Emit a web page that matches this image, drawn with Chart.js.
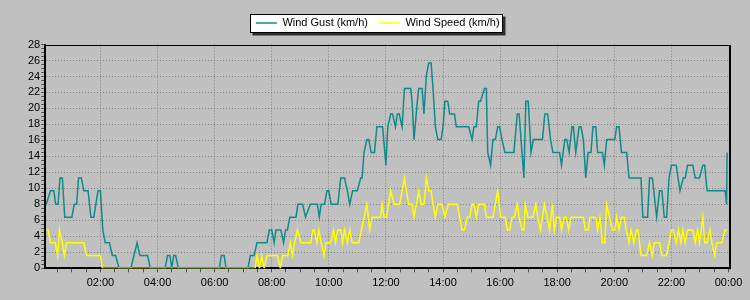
<!DOCTYPE html>
<html>
<head>
<meta charset="utf-8">
<script src="https://cdn.jsdelivr.net/npm/chart.js@4/dist/chart.umd.min.js"></script>
<style>
  html, body { margin: 0; padding: 0; background: #c0c0c0; }
  canvas { display: block; }
</style>
</head>
<body>
<canvas id="windChart" width="750" height="300"></canvas>
<script>
// Wind over one day (km/h). Times are the points where the trace changes.
const gustTimes = ['00:06','00:15','00:22','00:26','00:31','00:35','00:40','00:45','01:00','01:05','01:10','01:14','01:20','01:25','01:34','01:40','01:46','01:55','02:00','02:05','02:10','02:19','02:25','02:32','02:39','03:04','03:17','03:23','03:39','03:45','04:16','04:21','04:26','04:30','04:34','04:38','04:44','06:10','06:14','06:20','06:24','07:10','07:15','07:23','07:29','07:50','07:55','08:00','08:05','08:09','08:19','08:25','08:29','08:33','08:38','08:51','08:55','09:05','09:11','09:21','09:36','09:40','09:44','09:51','09:56','10:00','10:05','10:19','10:25','10:33','10:39','10:44','10:50','11:00','11:07','11:10','11:14','11:20','11:24','11:29','11:36','11:41','11:53','12:00','12:04','12:10','12:14','12:20','12:24','12:28','12:34','12:39','12:52','12:55','12:59','13:06','13:09','13:16','13:20','13:25','13:30','13:35','13:39','13:44','13:49','13:56','14:00','14:04','14:10','14:14','14:24','14:28','14:54','15:01','15:05','15:10','15:15','15:19','15:27','15:31','15:34','15:40','15:45','15:50','15:55','15:59','16:04','16:10','16:29','16:36','16:40','16:50','16:54','16:59','17:05','17:10','17:29','17:34','17:40','17:46','17:51','18:05','18:09','18:16','18:20','18:25','18:31','18:34','18:39','18:46','18:50','18:55','19:00','19:05','19:11','19:15','19:21','19:25','19:35','19:39','19:44','20:01','20:05','20:10','20:15','20:26','20:31','20:56','21:00','21:10','21:14','21:20','21:29','21:35','21:40','21:45','21:50','21:55','22:00','22:10','22:18','22:25','22:29','22:34','22:45','22:50','22:59','23:06','23:10','23:15','23:53','23:56','23:57'];
const gustValues = [8.0,9.7,9.7,8.0,8.0,11.3,11.3,6.4,6.4,8.0,8.0,11.3,11.3,9.7,9.7,6.4,6.4,9.7,9.7,4.8,3.2,3.2,1.6,1.6,0,0,3.2,1.6,1.6,0,0,1.6,1.6,0,1.6,1.6,0,0,1.6,1.6,0,0,1.6,1.6,3.2,3.2,4.8,4.8,3.2,4.8,4.8,3.2,4.8,4.8,6.4,6.4,8.0,8.0,6.4,8.0,8.0,6.4,8.0,8.0,9.7,9.7,8.0,8.0,11.3,11.3,9.7,8.0,9.7,9.7,11.3,11.3,14.5,16.1,16.1,14.5,14.5,17.7,17.7,12.9,17.7,19.3,19.3,17.7,19.3,19.3,17.7,22.5,22.5,20.9,16.1,20.9,22.5,22.5,19.3,24.1,25.7,25.7,22.5,17.7,16.1,16.1,17.7,20.9,20.9,19.3,19.3,17.7,17.7,16.1,17.7,17.7,20.9,20.9,22.5,22.5,14.5,12.9,16.1,16.1,17.7,17.7,16.1,14.5,14.5,19.3,19.3,11.3,20.9,20.9,14.5,16.1,16.1,19.3,19.3,16.1,14.5,14.5,12.9,16.1,16.1,14.5,17.7,17.7,14.5,17.7,17.7,16.1,11.3,14.5,14.5,17.7,17.7,14.5,14.5,12.9,16.1,16.1,17.7,17.7,14.5,14.5,11.3,11.3,6.4,6.4,11.3,11.3,6.4,9.7,9.7,6.4,6.4,11.3,12.9,12.9,9.7,11.3,11.3,12.9,12.9,11.3,11.3,12.9,12.9,9.7,9.7,8.0,14.5];

const speedTimes = ['00:06','00:10','00:15','00:25','00:30','00:34','00:40','00:44','00:49','01:25','01:31','02:00','02:04','07:25','07:29','07:34','07:39','07:44','07:50','08:12','08:18','08:23','08:34','08:39','08:44','08:48','08:54','09:01','09:22','09:26','09:29','09:35','09:39','09:44','09:50','09:54','10:04','10:10','10:14','10:19','10:25','10:29','10:33','10:39','10:44','10:49','11:03','11:20','11:26','11:31','11:49','11:52','11:56','12:01','12:10','12:17','12:29','12:34','12:39','12:43','12:48','12:55','12:59','13:04','13:09','13:14','13:20','13:25','13:30','13:35','13:39','13:44','13:49','13:58','14:04','14:11','14:30','14:35','14:40','14:45','14:51','14:56','15:01','15:05','15:10','15:15','15:27','15:31','15:45','15:50','15:55','16:01','16:11','16:15','16:20','16:25','16:30','16:36','16:40','16:46','16:50','16:53','16:58','17:09','17:15','17:19','17:25','17:33','17:39','17:44','17:50','17:54','17:59','18:05','18:09','18:15','18:19','18:24','18:29','18:55','18:59','19:05','19:09','19:21','19:25','19:30','19:35','19:40','19:44','19:50','19:56','20:01','20:05','20:10','20:15','20:21','20:25','20:31','20:35','20:41','20:46','20:50','20:56','21:08','21:14','21:20','21:24','21:35','21:40','21:50','21:55','22:00','22:04','22:10','22:15','22:20','22:24','22:29','22:34','22:45','22:50','22:55','22:59','23:06','23:10','23:15','23:21','23:25','23:31','23:35','23:46','23:53','23:57'];
const speedValues = [4.8,4.8,3.2,3.2,1.6,4.8,3.2,1.6,3.2,3.2,1.6,1.6,0,0,1.6,0,1.6,0,1.6,1.6,0,1.6,1.6,3.2,1.6,3.2,4.8,3.2,3.2,4.8,4.8,3.2,4.8,3.2,1.6,3.2,3.2,4.8,3.2,4.8,4.8,3.2,4.8,3.2,4.8,3.2,3.2,8.0,4.8,6.4,6.4,8.0,6.4,6.4,9.7,8.0,8.0,9.7,11.3,9.7,8.0,8.0,6.4,8.0,9.7,8.0,8.0,11.3,9.7,9.7,8.0,6.4,8.0,8.0,6.4,8.0,8.0,6.4,4.8,4.8,6.4,6.4,8.0,8.0,6.4,8.0,8.0,6.4,6.4,8.0,9.7,6.4,6.4,4.8,4.8,6.4,6.4,8.0,6.4,4.8,4.8,8.0,6.4,6.4,8.0,6.4,4.8,8.0,6.4,4.8,8.0,4.8,6.4,6.4,4.8,6.4,6.4,4.8,6.4,6.4,4.8,4.8,6.4,6.4,4.8,6.4,3.2,3.2,8.0,6.4,4.8,4.8,6.4,4.8,6.4,6.4,4.8,3.2,4.8,3.2,4.8,4.8,1.6,1.6,3.2,1.6,3.2,3.2,1.6,1.6,3.2,4.8,4.8,3.2,4.8,3.2,4.8,3.2,4.8,4.8,3.2,4.8,3.2,6.4,3.2,3.2,4.8,3.2,1.6,3.2,3.2,4.8,4.8];

const hourLabels = ['02:00','04:00','06:00','08:00','10:00','12:00','14:00','16:00','18:00','20:00','22:00','00:00'];

const toMinutes = t => {
    const [h, m] = t.split(':').map(Number);
    return h * 60 + m;
};
const toPoints = (times, values) => times.map((t, i) => ({ x: toMinutes(t), y: values[i] }));

Chart.defaults.font.family = "'Liberation Sans', Arial, sans-serif";
Chart.defaults.font.size = 11;
Chart.defaults.color = '#000';

// white legend box with a drop shadow, plus the top/right frame
const legendBox = {
    id: 'legendBox',
    beforeInit(chart) {
        const fit = chart.legend.fit;
        chart.legend.fit = function () {
            fit.call(this);
            this.height += 6;
        };
    },
    beforeDraw(chart) {
        const boxes = chart.legend.legendHitBoxes;
        if (!boxes || !boxes.length) return;
        const first = boxes[0];
        const last = boxes[boxes.length - 1];
        const mid = first.top + first.height / 2;
        const left = Math.round(first.left - 6) + 0.5;
        const right = Math.round(last.left + last.width + 2) + 0.5;
        const top = Math.round(mid - 9) + 0.5;
        const bottom = Math.round(mid + 9) + 0.5;
        const ctx = chart.ctx;
        ctx.save();
        ctx.fillStyle = '#303030';
        ctx.fillRect(left + 2, top + 2, right - left + 1, bottom - top + 1);
        ctx.fillStyle = '#ffffff';
        ctx.fillRect(left, top, right - left, bottom - top);
        ctx.strokeStyle = '#000';
        ctx.lineWidth = 1;
        ctx.strokeRect(left, top, right - left, bottom - top);
        ctx.restore();
    },
    afterDraw(chart) {
        const a = chart.chartArea;
        const ctx = chart.ctx;
        const r = Math.round(a.right);
        ctx.save();
        ctx.strokeStyle = '#000';
        ctx.lineWidth = 1;
        ctx.beginPath();
        ctx.moveTo(a.left, Math.round(a.top) + 0.5);
        ctx.lineTo(r + 0.5, Math.round(a.top) + 0.5);
        ctx.stroke();
        ctx.lineWidth = 2;
        ctx.beginPath();
        ctx.moveTo(r + 1, Math.round(a.top));
        ctx.lineTo(r + 1, a.bottom + 1);
        ctx.stroke();
        ctx.restore();
    }
};

new Chart(document.getElementById('windChart'), {
    type: 'line',
    data: {
        datasets: [{
            label: 'Wind Gust (km/h)',
            data: toPoints(gustTimes, gustValues),
            borderColor: '#108a8a',
            backgroundColor: '#108a8a',
            borderWidth: 1.5,
            pointRadius: 0,
            tension: 0,
            order: 1
        }, {
            label: 'Wind Speed (km/h)',
            data: toPoints(speedTimes, speedValues),
            borderColor: '#ffff00',
            backgroundColor: '#ffff00',
            borderWidth: 1.5,
            pointRadius: 0,
            tension: 0,
            order: 0
        }]
    },
    options: {
        responsive: false,
        animation: false,
        devicePixelRatio: 1,
        layout: { padding: { left: 27, right: 21.5, top: 6.5, bottom: 6.5 } },
        plugins: {
            legend: {
                position: 'top',
                labels: {
                    usePointStyle: true,
                    pointStyle: 'line',
                    pointStyleWidth: 21,
                    padding: 11,
                    color: '#000',
                    sort: (a, b) => a.datasetIndex - b.datasetIndex
                }
            },
            tooltip: { enabled: false }
        },
        scales: {
            x: {
                type: 'linear',
                min: 4,
                max: 1440,
                ticks: {
                    stepSize: 30,
                    autoSkip: false,
                    maxRotation: 0,
                    padding: 4,
                    callback: v => (v % 120 === 0 && v > 0) ? hourLabels[v / 120 - 1] : ''
                },
                grid: {
                    color: c => (c.tick && c.tick.value % 120 === 0 && c.tick.value < 1440) ? '#808080' : 'transparent',
                    tickColor: c => (c.tick && c.tick.value % 30 === 0) ? '#505050' : 'transparent',
                    tickLength: 4
                },
                border: { color: '#000', width: 2, dash: [1, 2] }
            },
            y: {
                min: 0,
                max: 28,
                ticks: {
                    stepSize: 0.5,
                    autoSkip: false,
                    padding: 1,
                    callback: v => v % 2 === 0 ? String(v) : ''
                },
                grid: {
                    color: c => (c.tick && c.tick.value % 2 === 0 && c.tick.value > 0 && c.tick.value < 28) ? '#808080' : 'transparent',
                    tickColor: '#505050',
                    tickLength: 4
                },
                border: { color: '#000', width: 2, dash: [1, 2] }
            }
        }
    },
    plugins: [legendBox]
});
</script>
</body>
</html>
